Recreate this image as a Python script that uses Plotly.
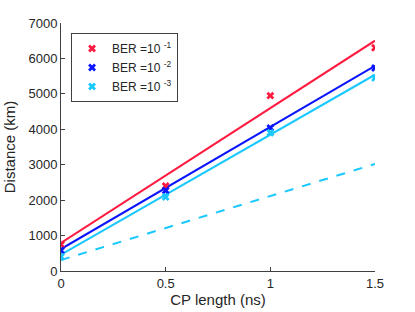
import plotly.graph_objects as go

cp = [0, 0.5, 1, 1.5]
ber1 = [750, 2400, 4950, 6300]
ber2 = [580, 2270, 4040, 5730]
ber3 = [400, 2090, 3900, 5450]

fit_x = [0, 1.5]
fit1 = [790, 6500]
fit2 = [620, 5790]
fit3 = [460, 5540]
dash3 = [310, 3020]

red = '#ff1a40'
blue = '#0a14ff'
cyan = '#19c8ff'

fig = go.Figure()
for y, c in [(fit1, red), (fit2, blue), (fit3, cyan)]:
    fig.add_trace(go.Scatter(x=fit_x, y=y, mode='lines', line=dict(color=c, width=2), showlegend=False))
fig.add_trace(go.Scatter(x=fit_x, y=dash3, mode='lines', line=dict(color=cyan, width=2, dash='dash'), showlegend=False))
for y, c, name in [(ber1, red, 'BER =10 <sup>-1</sup>'), (ber2, blue, 'BER =10 <sup>-2</sup>'), (ber3, cyan, 'BER =10 <sup>-3</sup>')]:
    fig.add_trace(go.Scatter(x=cp, y=y, mode='markers', name=name,
                             marker=dict(symbol='x', color=c, size=7, line=dict(width=0))))

axis_common = dict(showline=True, linecolor='#404040', linewidth=1, ticks='inside', ticklen=4,
                   tickcolor='#404040', showgrid=False, zeroline=False, mirror=False, automargin=False,
                   tickfont=dict(size=13, color='#262626'))
fig.update_layout(
    width=415, height=312,
    margin=dict(l=61, r=40, t=23, b=41),
    paper_bgcolor='white', plot_bgcolor='white',
    font=dict(family='Liberation Sans, Arial, sans-serif', color='#262626'),
    xaxis=dict(range=[0, 1.5], tickvals=[0, 0.5, 1, 1.5], ticktext=['0', '0.5', '1', '1.5'],
               title=dict(text='CP length (ns)', font=dict(size=15), standoff=2), **axis_common),
    yaxis=dict(range=[0, 7000], tickvals=[0, 1000, 2000, 3000, 4000, 5000, 6000, 7000],
               title=dict(text='Distance (km)', font=dict(size=15), standoff=9), **axis_common),
    legend=dict(x=0.032, y=0.96, xanchor='left', yanchor='top', bordercolor='#404040', borderwidth=1,
                bgcolor='white', font=dict(size=12), itemwidth=30, tracegroupgap=0),
)
fig.write_html('out.html', config={'displayModeBar': False},
               post_script="document.body.style.margin='0';")
